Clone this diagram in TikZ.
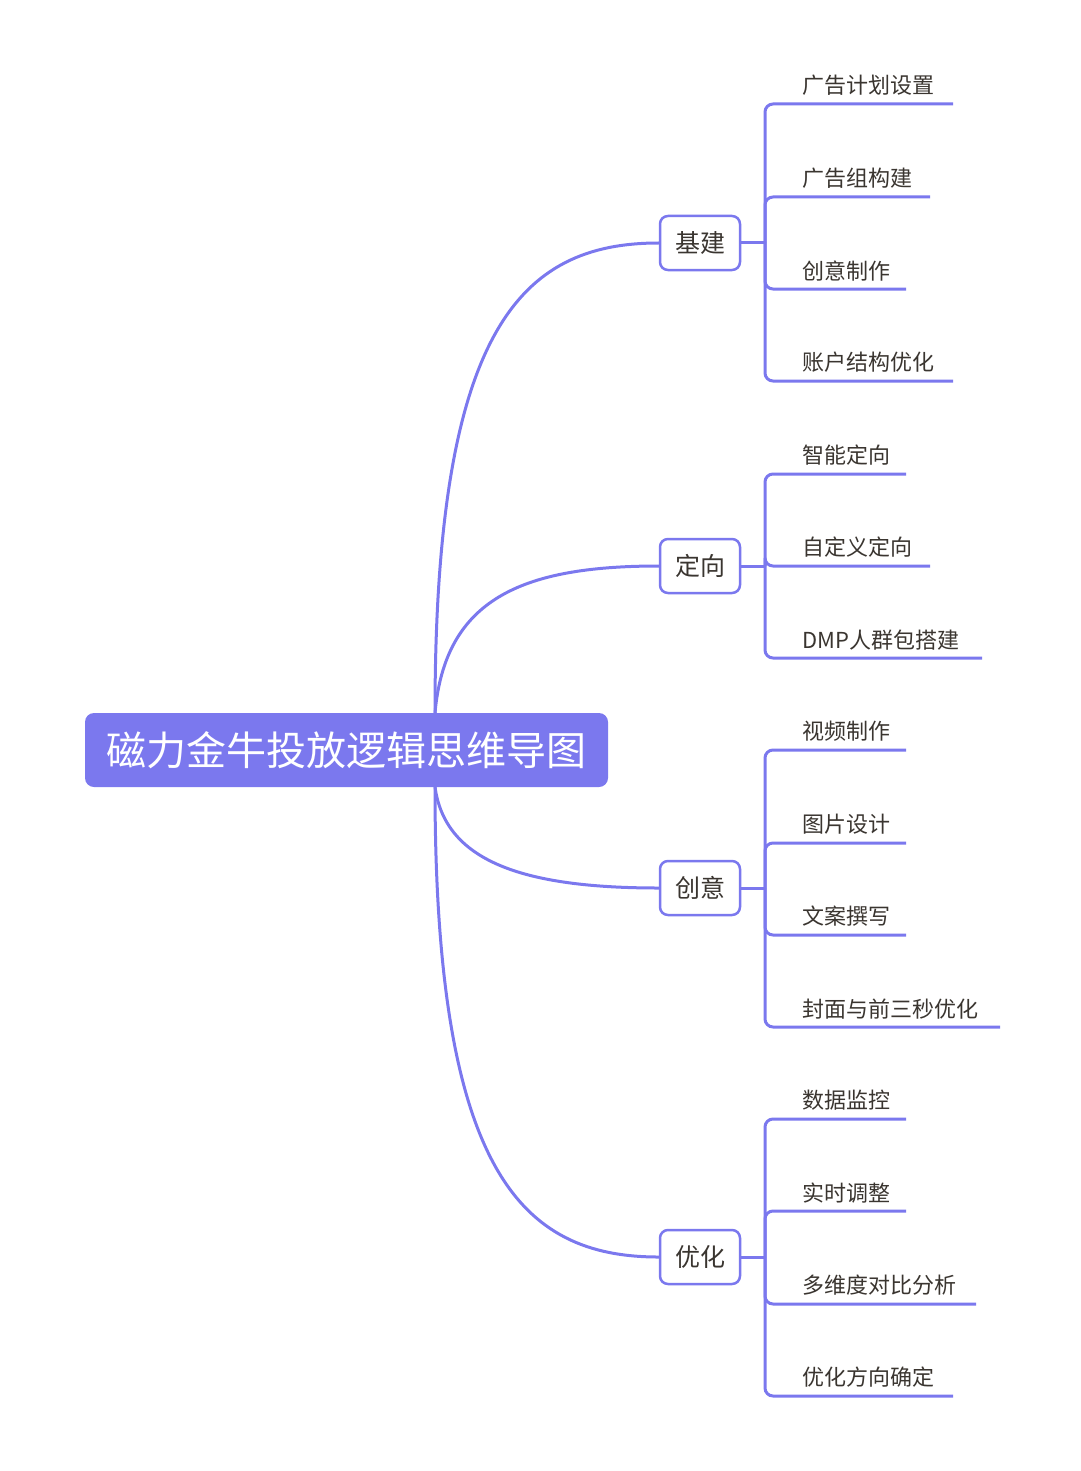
\documentclass[tikz,border=0pt]{standalone}
\usepackage{fontspec}
\setmainfont{Noto Sans CJK SC}
\definecolor{lc}{HTML}{7B78EE}
\definecolor{tc}{HTML}{3A3530}
\begin{document}
\begin{tikzpicture}[x=1pt,y=-1pt,
  ln/.style={draw=lc,line width=3pt},
  br/.style={draw=lc,line width=2.5pt,fill=white,rounded corners=8pt,minimum width=80pt,minimum height=54pt,font=\fontsize{25}{25}\selectfont,text=tc,inner sep=0pt},
  leaf/.style={anchor=south west,font=\fontsize{22}{22}\selectfont,text=tc,inner sep=0pt}]
\useasboundingbox (0,0) rectangle (1080,1471);
\coordinate (rt) at (435,713);
\coordinate (rb) at (435,787);
\node[br] (b1) at (700,243) {基建};
\node[br] (b2) at (700,566) {定向};
\node[br] (b3) at (700,888) {创意};
\node[br] (b4) at (700,1257) {优化};
\draw[ln] (rt) .. controls (435,330) and (520,243) .. (b1.west);
\draw[ln] (rt) .. controls (445,600) and (520,566) .. (b2.west);
\draw[ln] (rb) .. controls (445,860) and (520,888) .. (b3.west);
\draw[ln] (rb) .. controls (435,1170) and (520,1257) .. (b4.west);
\node[fill=lc,rounded corners=9pt,minimum width=523pt,minimum height=74pt,text=white,font=\fontsize{40}{40}\selectfont,inner sep=0pt] (root) at (346.5,750) {磁力金牛投放逻辑思维导图};
\foreach \b/\bx/\list in {b1/243/{104/953/广告计划设置,197/930/广告组构建,289/906/创意制作,381/953/账户结构优化},
  b2/566/{474/906/智能定向,566/930/自定义定向,658/982/DMP人群包搭建},
  b3/888/{750/906/视频制作,843/906/图片设计,935/906/文案撰写,1027/1000/封面与前三秒优化},
  b4/1257/{1119/906/数据监控,1211/906/实时调整,1304/976/多维度对比分析,1396/953/优化方向确定}}{
  \coordinate (\b j) at (765,\bx);
  \draw[ln] (\b.east) -- (\b j);
  \foreach \y/\e/\t in \list {
    \coordinate (\b e\y) at (\e,\y);
    \node[leaf] (\b l\y) at (802,\y-8) {\t};
    \draw[ln,rounded corners=8pt] (\b j) |- (\b e\y);
  }
}
\end{tikzpicture}
\end{document}
